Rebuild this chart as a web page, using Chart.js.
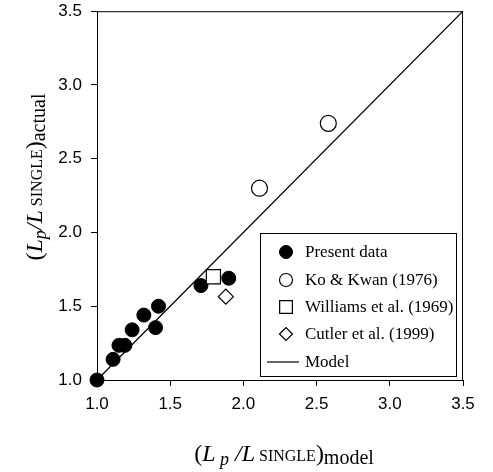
<!DOCTYPE html>
<html lang="en">
<head>
  <meta charset="UTF-8" />
  <title>Lp / L single - model vs actual</title>
  <script src="https://cdn.jsdelivr.net/npm/chart.js@4.4.1/dist/chart.umd.min.js"></script>
  <style>
    * { box-sizing: border-box; }
    body { margin: 0; background: #fff; }
    .wrap { width: 493px; height: 472px; }
  </style>
</head>
<body>
  <div class="wrap">
    <canvas id="ratioChart" width="493" height="472"></canvas>
  </div>

  <script>
    // data
    const presentX = [1.00, 1.11, 1.15, 1.19, 1.24, 1.32, 1.40, 1.42, 1.71, 1.90];
    const presentY = [1.00, 1.14, 1.235, 1.235, 1.34, 1.44, 1.355, 1.50, 1.64, 1.69];
    const koKwanX = [2.11, 2.58];
    const koKwanY = [2.30, 2.74];
    const williamsX = [1.795];
    const williamsY = [1.70];
    const cutlerX = [1.88];
    const cutlerY = [1.565];
    const modelX = [1.0, 3.5];
    const modelY = [1.0, 3.5];

    const axisMin = 1.0;
    const axisMax = 3.5;
    const tickStep = 0.5;

    const legendLabels = ["Present data", "Ko & Kwan (1976)", "Williams et al. (1969)", "Cutler et al. (1999)", "Model"];

    function pts(xs, ys) {
      return xs.map((x, i) => ({ x: x, y: ys[i] }));
    }

    const SERIF = "'Liberation Serif', 'Times New Roman', serif";

    // draws a run of text pieces with different fonts / baseline shifts
    function drawRuns(ctx, runs, cx, cy) {
      let total = 0;
      runs.forEach(r => { ctx.font = r.font; total += ctx.measureText(r.t).width; });
      let x = cx - total / 2;
      ctx.textBaseline = "alphabetic";
      ctx.textAlign = "left";
      runs.forEach(r => {
        ctx.font = r.font;
        ctx.fillText(r.t, x, cy + (r.dy || 0));
        x += ctx.measureText(r.t).width;
      });
    }

    function titleRuns(pre, gap, tail) {
      return [
        { t: "(", font: "24px " + SERIF },
        { t: "L", font: "italic 24px " + SERIF },
        { t: pre + "p", font: "italic 18px " + SERIF, dy: 4 },
        { t: gap + "/", font: "italic 24px " + SERIF },
        { t: "L", font: "italic 24px " + SERIF },
        { t: " SINGLE", font: "16px " + SERIF },
        { t: ")", font: "24px " + SERIF },
        { t: tail, font: "20px " + SERIF, dy: 3 }
      ];
    }

    const extrasPlugin = {
      id: "extras",
      afterDraw(chart) {
        const ctx = chart.ctx;
        const a = chart.chartArea;
        ctx.save();

        // box round the plot
        ctx.strokeStyle = "#000";
        ctx.lineWidth = 1;
        ctx.strokeRect(a.left + 0.5, a.top + 0.5, a.right - a.left - 1, a.bottom - a.top);

        // legend
        const lx = 260, ly = 233, lw = 196, lh = 143;
        ctx.fillStyle = "#fff";
        ctx.fillRect(lx, ly, lw, lh);
        ctx.strokeRect(lx + 0.5, ly + 0.5, lw, lh);
        const rowY = [252, 280, 307, 334, 362];
        const symX = 286, textX = 305;
        chart.data.datasets.forEach((ds, i) => {
          const y = rowY[i];
          if (ds.type === "line") {
            ctx.strokeStyle = "#000";
            ctx.lineWidth = 1.2;
            ctx.beginPath();
            ctx.moveTo(267, y);
            ctx.lineTo(299, y);
            ctx.stroke();
          } else {
            ctx.fillStyle = ds.backgroundColor;
            ctx.strokeStyle = ds.borderColor;
            ctx.lineWidth = ds.borderWidth;
            Chart.helpers.drawPoint(ctx, {
              pointStyle: ds.pointStyle,
              radius: ds.legendRadius,
              rotation: 0,
              borderWidth: ds.borderWidth
            }, symX, y);
          }
          ctx.fillStyle = "#000";
          ctx.font = "17px " + SERIF;
          ctx.textBaseline = "middle";
          ctx.textAlign = "left";
          ctx.fillText(legendLabels[i], textX, y + 1);
        });

        // axis titles
        ctx.fillStyle = "#000";
        drawRuns(ctx, titleRuns(" ", " ", "model"), 284, 461);

        ctx.translate(42, 177);
        ctx.rotate(-Math.PI / 2);
        drawRuns(ctx, titleRuns("", "", "actual"), 0, 0);

        ctx.restore();
      }
    };

    const tickFont = { family: "'Liberation Sans', Arial, sans-serif", size: 17 };

    new Chart(document.getElementById("ratioChart"), {
      type: "scatter",
      data: {
        datasets: [
          {
            label: legendLabels[0],
            data: pts(presentX, presentY),
            pointStyle: "circle",
            pointRadius: 7,
            legendRadius: 6.5,
            backgroundColor: "#000",
            borderColor: "#000",
            borderWidth: 1,
            clip: false,
            order: 1
          },
          {
            label: legendLabels[1],
            data: pts(koKwanX, koKwanY),
            pointStyle: "circle",
            pointRadius: 8,
            legendRadius: 6.5,
            backgroundColor: "#fff",
            borderColor: "#000",
            borderWidth: 1.2,
            clip: false,
            order: 1
          },
          {
            label: legendLabels[2],
            data: pts(williamsX, williamsY),
            pointStyle: "rect",
            pointRadius: 10,
            legendRadius: 9,
            backgroundColor: "#fff",
            borderColor: "#000",
            borderWidth: 1.2,
            clip: false,
            order: 0
          },
          {
            label: legendLabels[3],
            data: pts(cutlerX, cutlerY),
            pointStyle: "rectRot",
            pointRadius: 7.5,
            legendRadius: 6.5,
            backgroundColor: "#fff",
            borderColor: "#000",
            borderWidth: 1.2,
            clip: false,
            order: 0
          },
          {
            type: "line",
            label: legendLabels[4],
            data: pts(modelX, modelY),
            borderColor: "#000",
            borderWidth: 1.3,
            pointRadius: 0,
            fill: false,
            order: 5
          }
        ]
      },
      options: {
        responsive: false,
        animation: false,
        layout: { padding: { left: 0, top: 8, right: 30, bottom: 0 } },
        plugins: {
          legend: { display: false },
          tooltip: { enabled: false }
        },
        scales: {
          x: {
            type: "linear",
            min: axisMin,
            max: axisMax,
            afterFit(scale) {
              scale.height = 92;
              scale.paddingLeft = 0;
              scale.paddingRight = 0;
            },
            border: { display: true, color: "#000", width: 1 },
            grid: { drawOnChartArea: false, drawTicks: true, tickLength: 6, color: "#000" },
            ticks: {
              stepSize: tickStep,
              color: "#000",
              font: tickFont,
              padding: 8,
              callback: v => v.toFixed(1)
            }
          },
          y: {
            type: "linear",
            min: axisMin,
            max: axisMax,
            afterFit(scale) {
              scale.width = 97;
              scale.paddingTop = 0;
              scale.paddingBottom = 0;
            },
            border: { display: true, color: "#000", width: 1 },
            grid: { drawOnChartArea: false, drawTicks: true, tickLength: 6, color: "#000" },
            ticks: {
              stepSize: tickStep,
              color: "#000",
              font: tickFont,
              padding: 9,
              callback: v => v.toFixed(1)
            }
          }
        }
      },
      plugins: [extrasPlugin]
    });
  </script>
</body>
</html>
